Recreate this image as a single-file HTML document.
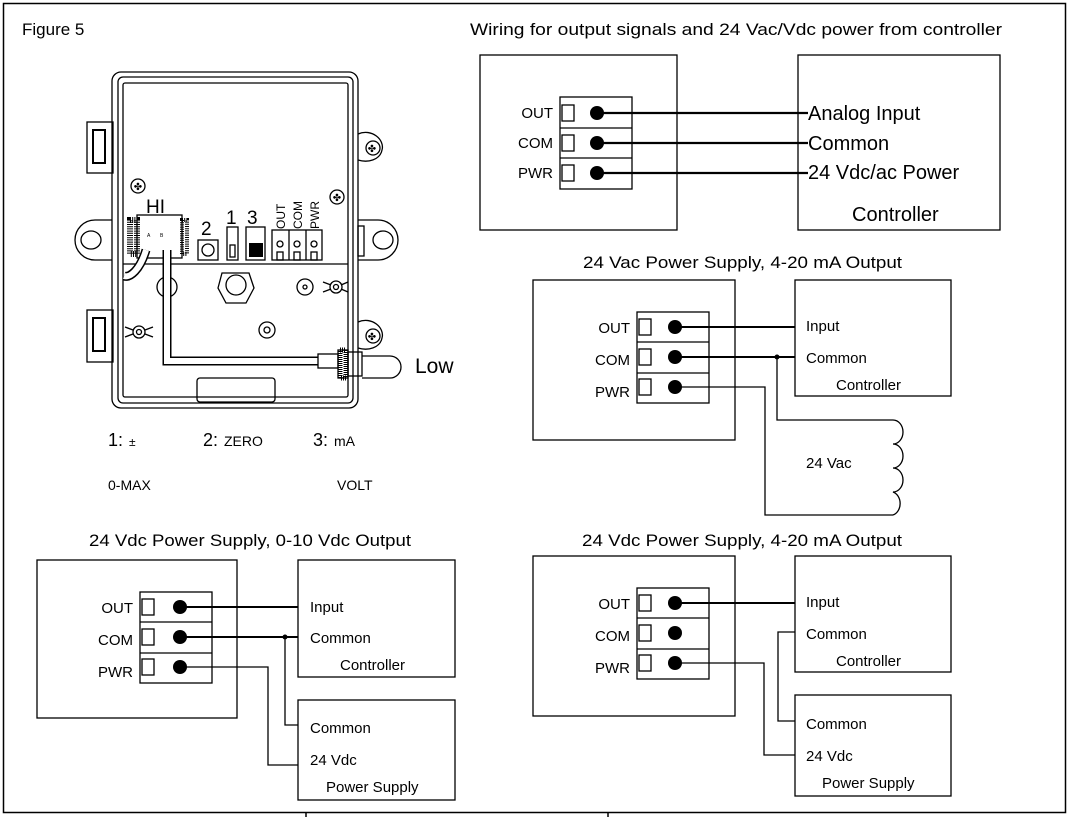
<!DOCTYPE html>
<html><head><meta charset="utf-8"><style>
html,body{margin:0;padding:0;background:#fff}
svg{display:block;font-family:"Liberation Sans",sans-serif}
</style></head><body>
<svg width="1071" height="817" viewBox="0 0 1071 817" xmlns="http://www.w3.org/2000/svg">
<g fill="none" stroke="#000">
<!-- frame -->
<rect x="3.5" y="3.5" width="1062" height="809" stroke-width="1.5"/>
<line x1="306" y1="813" x2="306" y2="817" stroke-width="1.5"/>
<line x1="608" y1="813" x2="608" y2="817" stroke-width="1.5"/>
</g>
<g font-size="17" fill="#000">
<text x="22" y="35">Figure 5</text>
<text x="470" y="35" textLength="532" lengthAdjust="spacingAndGlyphs">Wiring for output signals and 24 Vac/Vdc power from controller</text>
<text x="583" y="268" textLength="319" lengthAdjust="spacingAndGlyphs">24 Vac Power Supply, 4-20 mA Output</text>
<text x="89" y="546" textLength="322" lengthAdjust="spacingAndGlyphs">24 Vdc Power Supply, 0-10 Vdc Output</text>
<text x="582" y="546" textLength="320" lengthAdjust="spacingAndGlyphs">24 Vdc Power Supply, 4-20 mA Output</text>
</g>

<!-- ===== Device drawing ===== -->
<g fill="none" stroke="#000" stroke-width="1.3">
<rect x="112" y="72" width="246" height="336" rx="9"/>
<rect x="118" y="77" width="235" height="326" rx="5"/>
<rect x="123" y="83" width="225" height="314" rx="2"/>
<!-- left tabs -->
<rect x="87" y="122" width="26" height="51"/>
<rect x="93" y="130" width="12" height="33" stroke-width="2"/>
<rect x="87" y="310" width="26" height="52"/>
<rect x="93" y="318" width="12" height="33" stroke-width="2"/>
<!-- left ear -->
<path d="M112 220 H95 A20 20 0 0 0 95 260 H112"/>
<ellipse cx="91" cy="240" rx="10" ry="9"/>
<!-- right ear -->
<path d="M358 220 H378 A20 20 0 0 1 378 260 H358"/>
<ellipse cx="383" cy="240" rx="10" ry="9"/>
<rect x="358" y="226" width="6" height="30"/>
<!-- right screw ears -->
<path d="M358 134 C372 128 385 140 382 150 C380 160 368 163 358 160"/>
<circle cx="373" cy="148" r="7"/>
<path d="M358 322 C372 316 385 328 382 338 C380 348 368 351 358 348"/>
<circle cx="373" cy="336" r="7"/>
<!-- screws -->
<circle cx="138" cy="186" r="7"/>
<circle cx="337" cy="197" r="7"/>
<!-- divider -->
<line x1="123" y1="264" x2="348" y2="264"/>
<!-- HI chip -->
<rect x="137" y="215" width="45" height="43"/>
<!-- button 2 -->
<rect x="198" y="240" width="20" height="20"/>
<circle cx="208" cy="250" r="6"/>
<!-- switch 1 -->
<rect x="227" y="227" width="11" height="33"/>
<rect x="230" y="245" width="5" height="12"/>
<!-- switch 3 -->
<rect x="246" y="227" width="19" height="33"/>
<!-- terminals -->
<rect x="272" y="230" width="50" height="30"/>
<line x1="289" y1="230" x2="289" y2="260"/>
<line x1="306" y1="230" x2="306" y2="260"/>
<circle cx="280" cy="244" r="3"/><circle cx="297" cy="244" r="3"/><circle cx="314" cy="244" r="3"/>
<rect x="277" y="252" width="6" height="8"/><rect x="294" y="252" width="6" height="8"/><rect x="311" y="252" width="6" height="8"/>
<!-- grommet -->
<path d="M222 273 L249 273 L254 288 L246 303 L226 303 L218 288 Z"/>
<circle cx="236" cy="285" r="10"/>
<circle cx="305" cy="287" r="8"/><circle cx="305" cy="287" r="2"/>
<circle cx="267" cy="330" r="8"/><circle cx="267" cy="330" r="3"/>
<circle cx="167" cy="287" r="10"/>
<!-- wing nuts -->
<path d="M323 282 L331 285 M323 292 L331 289 M348 282 L341 285 M348 292 L341 289"/>
<circle cx="336" cy="287" r="6"/><circle cx="336" cy="287" r="2.5"/>
<path d="M125 327 L133 330 M125 337 L133 334 M153 327 L145 330 M153 337 L145 334"/>
<circle cx="139" cy="332" r="6"/><circle cx="139" cy="332" r="2.5"/>
<!-- tubes -->
<path d="M146 250 C140 270 130 278 124 276" stroke-width="9"/>
<path d="M146 250 C140 270 130 278 124 276" stroke="#fff" stroke-width="6"/>
<path d="M167 250 V361 H318" stroke-width="9"/>
<path d="M167 250 V361 H318" stroke="#fff" stroke-width="6"/>
<!-- fitting -->
<rect x="318" y="354" width="20" height="14"/>
<rect x="338" y="350" width="10" height="28"/>
<rect x="348" y="352" width="14" height="24"/>
<path d="M362 356 H390 A11 11 0 0 1 390 378 H362"/>
<!-- latch -->
<rect x="197" y="378" width="78" height="24" rx="3"/>
</g>
<g fill="#000">
<rect x="249" y="243" width="14" height="14"/>
<rect x="130" y="220" width="7" height="34" fill="none" stroke="#000" stroke-dasharray="1 1.2" stroke-width="6"/>
<rect x="182" y="220" width="5" height="34" fill="none" stroke="#000" stroke-dasharray="1 1.2" stroke-width="4"/>
<rect x="340" y="350" width="6" height="28" fill="none" stroke="#000" stroke-dasharray="1 1" stroke-width="5"/>
<text x="146" y="213" font-size="19">HI</text>
<text x="147" y="237" font-size="5">A</text><text x="160" y="237" font-size="5">B</text>
<text x="201" y="235" font-size="19">2</text>
<text x="226" y="224" font-size="19">1</text>
<text x="247" y="224" font-size="19">3</text>
<text font-size="12" transform="translate(285 229) rotate(-90)">OUT</text>
<text font-size="12" transform="translate(302 229) rotate(-90)">COM</text>
<text font-size="12" transform="translate(319 229) rotate(-90)">PWR</text>
<text x="415" y="373" font-size="21">Low</text>
<text x="108" y="446" font-size="18">1:</text><text x="129" y="446" font-size="12">±</text>
<text x="203" y="446" font-size="18">2:</text><text x="224" y="446" font-size="14">ZERO</text>
<text x="313" y="446" font-size="18">3:</text><text x="334" y="446" font-size="14">mA</text>
<text x="108" y="490" font-size="14">0-MAX</text>
<text x="337" y="490" font-size="14">VOLT</text>
</g>
<g font-size="10" fill="#000">
<text x="372" y="152" text-anchor="middle">✤</text>
<text x="372" y="340" text-anchor="middle">✤</text>
<text x="138" y="190" text-anchor="middle">✤</text>
<text x="337" y="201" text-anchor="middle">✤</text>
</g>

<!-- ===== Top wiring ===== -->
<g fill="none" stroke="#000" stroke-width="1.3">
<rect x="480" y="55" width="197" height="175"/>
<rect x="798" y="55" width="202" height="175"/>
<rect x="560" y="97" width="72" height="92"/>
<line x1="560" y1="128" x2="632" y2="128"/><line x1="560" y1="158" x2="632" y2="158"/>
<rect x="562" y="105" width="12" height="16"/><rect x="562" y="135" width="12" height="16"/><rect x="562" y="165" width="12" height="16"/>
<g stroke-width="2.2">
<line x1="597" y1="113" x2="808" y2="113"/><line x1="597" y1="143" x2="808" y2="143"/><line x1="597" y1="173" x2="808" y2="173"/>
</g>
</g>
<g fill="#000">
<circle cx="597" cy="113" r="7"/><circle cx="597" cy="143" r="7"/><circle cx="597" cy="173" r="7"/>
<g font-size="15" text-anchor="end"><text x="553" y="118">OUT</text><text x="553" y="148">COM</text><text x="553" y="178">PWR</text></g>
<g font-size="20"><text x="808" y="120">Analog Input</text><text x="808" y="150">Common</text><text x="808" y="179">24 Vdc/ac Power</text><text x="852" y="221">Controller</text></g>
</g>

<!-- ===== Middle right ===== -->
<g fill="none" stroke="#000" stroke-width="1.3">
<rect x="533" y="280" width="202" height="160"/>
<rect x="795" y="280" width="156" height="116"/>
<rect x="637" y="312" width="72" height="91"/>
<line x1="637" y1="342" x2="709" y2="342"/><line x1="637" y1="373" x2="709" y2="373"/>
<rect x="639" y="319" width="12" height="16"/><rect x="639" y="349" width="12" height="16"/><rect x="639" y="379" width="12" height="16"/>
<g stroke-width="2"><line x1="675" y1="327" x2="795" y2="327"/><line x1="675" y1="357" x2="795" y2="357"/></g>
<path d="M777 357 V420 H893"/>
<path d="M675 387 H765 V515 H893"/>
<path d="M893 420 A10 12 0 0 1 893 444 A10 12 0 0 1 893 468 A10 12 0 0 1 893 492 A10 12 0 0 1 893 515"/>
</g>
<g fill="#000">
<circle cx="675" cy="327" r="7"/><circle cx="675" cy="357" r="7"/><circle cx="675" cy="387" r="7"/><circle cx="777" cy="357" r="2.5"/>
<g font-size="15" text-anchor="end"><text x="630" y="333">OUT</text><text x="630" y="365">COM</text><text x="630" y="397">PWR</text></g>
<g font-size="15"><text x="806" y="331">Input</text><text x="806" y="363">Common</text><text x="836" y="390">Controller</text><text x="806" y="468">24 Vac</text></g>
</g>

<!-- ===== Bottom left ===== -->
<g fill="none" stroke="#000" stroke-width="1.3">
<rect x="37" y="560" width="200" height="158"/>
<rect x="298" y="560" width="157" height="117"/>
<rect x="298" y="700" width="157" height="100"/>
<rect x="140" y="592" width="72" height="91"/>
<line x1="140" y1="622" x2="212" y2="622"/><line x1="140" y1="653" x2="212" y2="653"/>
<rect x="142" y="599" width="12" height="16"/><rect x="142" y="629" width="12" height="16"/><rect x="142" y="659" width="12" height="16"/>
<g stroke-width="2"><line x1="180" y1="607" x2="298" y2="607"/><line x1="180" y1="637" x2="298" y2="637"/></g>
<path d="M285 637 V725 H298"/>
<path d="M180 667 H268 V765 H298"/>
</g>
<g fill="#000">
<circle cx="180" cy="607" r="7"/><circle cx="180" cy="637" r="7"/><circle cx="180" cy="667" r="7"/><circle cx="285" cy="637" r="2.5"/>
<g font-size="15" text-anchor="end"><text x="133" y="613">OUT</text><text x="133" y="645">COM</text><text x="133" y="677">PWR</text></g>
<g font-size="15"><text x="310" y="612">Input</text><text x="310" y="643">Common</text><text x="340" y="670">Controller</text>
<text x="310" y="733">Common</text><text x="310" y="765">24 Vdc</text><text x="326" y="792">Power Supply</text></g>
</g>

<!-- ===== Bottom right ===== -->
<g fill="none" stroke="#000" stroke-width="1.3">
<rect x="533" y="556" width="202" height="160"/>
<rect x="795" y="556" width="156" height="116"/>
<rect x="795" y="695" width="156" height="101"/>
<rect x="637" y="588" width="72" height="91"/>
<line x1="637" y1="618" x2="709" y2="618"/><line x1="637" y1="649" x2="709" y2="649"/>
<rect x="639" y="595" width="12" height="16"/><rect x="639" y="625" width="12" height="16"/><rect x="639" y="655" width="12" height="16"/>
<line x1="675" y1="603" x2="795" y2="603" stroke-width="2"/>
<path d="M795 632 H778 V721 H795"/>
<path d="M675 663 H764 V755 H795"/>
</g>
<g fill="#000">
<circle cx="675" cy="603" r="7"/><circle cx="675" cy="633" r="7"/><circle cx="675" cy="663" r="7"/>
<g font-size="15" text-anchor="end"><text x="630" y="609">OUT</text><text x="630" y="641">COM</text><text x="630" y="673">PWR</text></g>
<g font-size="15"><text x="806" y="607">Input</text><text x="806" y="639">Common</text><text x="836" y="666">Controller</text>
<text x="806" y="729">Common</text><text x="806" y="761">24 Vdc</text><text x="822" y="788">Power Supply</text></g>
</g>
</svg>
</body></html>
